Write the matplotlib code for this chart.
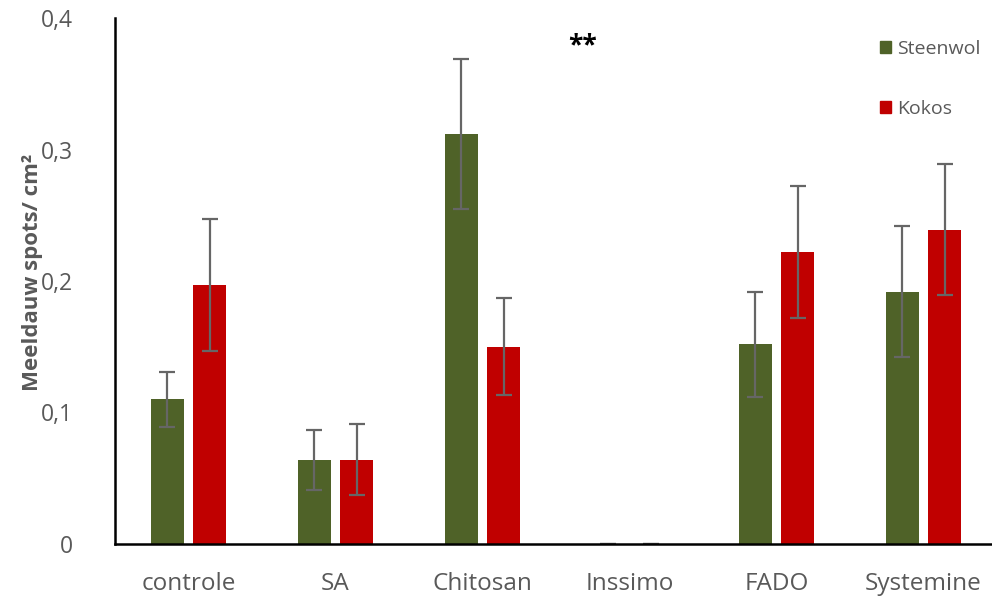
import numpy as np
import matplotlib.pyplot as plt
from matplotlib.patches import Patch

plt.rcParams['font.family'] = ['Open Sans', 'DejaVu Sans']

categories = ['controle', 'SA', 'Chitosan', 'Inssimo', 'FADO', 'Systemine']
steenwol = [0.110, 0.064, 0.312, 0.0, 0.152, 0.192]
steenwol_err = [0.021, 0.023, 0.057, 0.0, 0.040, 0.050]
kokos = [0.197, 0.064, 0.150, 0.0, 0.222, 0.239]
kokos_err = [0.050, 0.027, 0.037, 0.0, 0.050, 0.050]

green = '#4F6228'
red = '#C00000'
grey = '#595959'

fig = plt.figure(figsize=(9.92, 5.99), dpi=100)
ax = fig.add_axes([115/992, 55/599, 882/992, 526/599])

x = np.arange(len(categories))
w = 0.224
off = 0.143
ekw = dict(ecolor='#666666', elinewidth=1.6, capsize=6, capthick=1.6)
ax.bar(x - off, steenwol, w, color=green, yerr=steenwol_err, error_kw=ekw)
ax.bar(x + off, kokos, w, color=red, yerr=kokos_err, error_kw=ekw)

ax.set_xlim(-0.5, len(categories) - 0.5)
ax.set_ylim(0, 0.4)
ax.set_yticks([0, 0.1, 0.2, 0.3, 0.4])
ax.set_yticklabels(['0', '0,1', '0,2', '0,3', '0,4'])
ax.set_xticks(x)
ax.set_xticklabels(categories)
ax.tick_params(axis='x', length=0, labelsize=17.5, colors=grey, pad=20)
ax.tick_params(axis='y', length=0, labelsize=16.5, colors=grey, pad=30)

for s in ['top', 'right']:
    ax.spines[s].set_visible(False)
for s in ['left', 'bottom']:
    ax.spines[s].set_linewidth(1.8)
    ax.spines[s].set_color('black')

ax.set_ylabel('Meeldauw spots/ cm²', fontsize=16, fontweight='bold', color=grey)
ax.yaxis.set_label_coords(-0.082, 0.517)

ax.text(2.68, 0.379, '**', fontsize=19, fontweight='bold', ha='center', va='center', color='black')

handles = [Patch(color=green, label='Steenwol'), Patch(color=red, label='Kokos')]
ax.legend(handles=handles, loc='upper left', bbox_to_anchor=(0.867, 0.958), frameon=False,
          borderpad=0, borderaxespad=0,
          fontsize=14, labelcolor=grey, handlelength=0.6, handleheight=0.6,
          handletextpad=0.3, labelspacing=2.15)

fig.savefig('out.png', dpi=100)
